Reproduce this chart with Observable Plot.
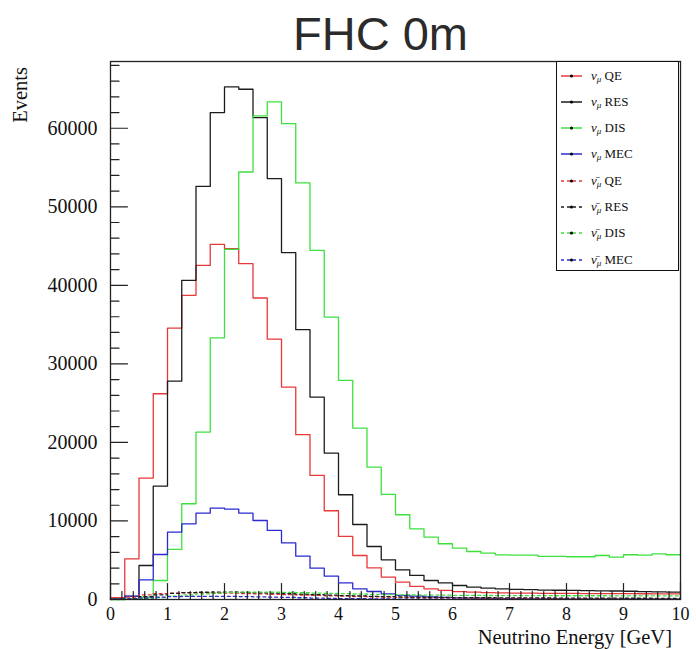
<!DOCTYPE html>
<html>
<head>
<meta charset="utf-8">
<script src="https://cdn.jsdelivr.net/npm/d3@7"></script>
<script src="https://cdn.jsdelivr.net/npm/@observablehq/plot@0.6"></script>
<style>
  body { margin: 0; background: #fff; }
  #wrap { position: relative; width: 696px; height: 649px; background: #fff; }
  #title { position: absolute; left: 293px; top: 10px; font-family: "Liberation Sans", Arial, sans-serif; font-size: 47px; line-height: 47px; color: #2b2b2b; white-space: nowrap; }
  #head { height: 58px; }
  .serif { font-family: "Liberation Serif", "DejaVu Serif", serif; color: #111; }
  #ylab { position: absolute; left: 0; top: 0; font-size: 20.5px; line-height: 23px; white-space: nowrap; transform-origin: 0 0; transform: translate(9px, 67px) rotate(-90deg) translateX(-100%); }
  #xlab { position: absolute; right: 24px; top: 626px; font-size: 20.5px; line-height: 23px; white-space: nowrap; }
  #legend { position: absolute; left: 556px; top: 61px; width: 123px; height: 210px; border: 1px solid #111; background: #fff; box-sizing: border-box; }
  .entry { position: absolute; left: 0; height: 16px; width: 120px; }
  .entry svg { position: absolute; left: 4px; top: 0; }
  .entry span { position: absolute; left: 34px; top: 0; font-size: 13px; line-height: 16px; white-space: nowrap; }
  .entry i { font-style: italic; }
  .entry sub { font-size: 9px; vertical-align: -2px; font-style: italic; }
</style>
</head>
<body>
<div id="wrap">
  <div id="head"></div>
  <div id="title">FHC 0m</div>
  <div id="chart"></div>
  <div id="ylab" class="serif">Events</div>
  <div id="xlab" class="serif">Neutrino Energy [GeV]</div>
  <div id="legend" class="serif"></div>
</div>
<script>
// Bin edges (GeV), 40 bins of 0.25 GeV
const binEdges = [0,0.25,0.5,0.75,1,1.25,1.5,1.75,2,2.25,2.5,2.75,3,3.25,3.5,3.75,4,4.25,4.5,4.75,5,5.25,5.5,5.75,6,6.25,6.5,6.75,7,7.25,7.5,7.75,8,8.25,8.5,8.75,9,9.25,9.5,9.75,10];

// nu_mu event counts per bin
const numuQE  = [250,5180,15460,26200,34560,38730,42550,45220,44670,42760,38390,33150,27050,20980,15800,11300,8030,5600,4030,2850,2210,1660,1360,1150,1000,930,880,850,820,800,790,780,770,760,750,740,740,730,720,720];
const numuRES = [100,400,4330,14430,27800,40640,52600,62000,65260,64970,61360,53590,44170,34360,25770,18640,13340,9550,6750,5050,3780,3060,2420,2120,1780,1570,1440,1350,1300,1250,1200,1180,1150,1120,1100,1080,1050,1000,980,950];
const numuDIS = [0,50,300,2420,6370,12190,21320,33300,44590,54430,61570,63350,60590,53040,44460,35960,27900,21830,16860,13380,10790,9000,7940,7100,6540,6110,5900,5690,5650,5650,5480,5480,5440,5440,5600,5400,5700,5650,5820,5700];
const numuMEC = [50,420,2500,5730,8580,9640,11000,11630,11510,11000,10060,8790,7220,5520,3990,2970,2120,1360,1020,720,520,420,330,260,200,170,140,120,100,90,80,70,60,55,50,45,40,35,30,30];
// anti-nu_mu event counts per bin
const anumuQE  = [60,300,600,750,820,850,850,830,800,760,720,670,620,570,520,470,420,380,340,300,270,240,220,200,185,170,160,150,140,135,130,125,120,115,110,105,100,100,95,90];
const anumuRES = [20,100,350,600,780,880,920,930,920,890,850,800,740,680,620,560,500,450,400,360,330,300,280,260,245,230,220,210,200,195,190,185,180,175,170,165,160,160,155,150];
const anumuDIS = [0,20,100,250,420,580,720,820,900,940,950,930,900,860,820,780,740,700,660,630,600,580,560,545,530,520,510,500,495,490,485,480,480,475,475,470,470,470,465,465];
const anumuMEC = [5,60,200,300,360,390,400,400,390,370,340,300,260,220,180,150,120,100,80,65,55,45,40,35,30,25,22,20,18,16,15,14,13,12,11,10,10,9,9,8];

const xTickValues = [0,1,2,3,4,5,6,7,8,9,10];
const yTickValues = [0,10000,20000,30000,40000,50000,60000];

const seriesNames = ["numuQE","numuRES","numuDIS","numuMEC","anumuQE","anumuRES","anumuDIS","anumuMEC"];
const seriesValues = [numuQE,numuRES,numuDIS,numuMEC,anumuQE,anumuRES,anumuDIS,anumuMEC];
const legendInteraction = ["QE","RES","DIS","MEC","QE","RES","DIS","MEC"];
const legendAnti = [false,false,false,false,true,true,true,true];

const colors = ["#e8383a","#1c1c1c","#3ee03e","#2b2bd0","#e8383a","#1c1c1c","#3ee03e","#2b2bd0"];
const dashes = [null,null,null,null,"3,3","3,3","3,3","3,3"];

function stepData(vals) {
  const out = vals.map((v, i) => ({e: binEdges[i], v}));
  out.push({e: binEdges[vals.length], v: vals[vals.length - 1]});
  return out;
}

const yMinor = d3.range(2000, 68500, 2000).filter(d => d % 10000 !== 0);
const xMinor = d3.range(0, 10.001, 0.2).map(d => Math.round(d * 10) / 10).filter(d => Math.abs(d - Math.round(d)) > 1e-6);

const tickShape = {draw(context, l) { context.moveTo(0, 0); context.lineTo(0, -l); }};

const lineMarks = seriesValues.map((vals, k) =>
  Plot.line(stepData(vals), {
    x: "e", y: "v", curve: "step-after",
    stroke: colors[k], strokeWidth: 1.3,
    strokeDasharray: dashes[k] || undefined
  })
);

const chart = Plot.plot({
  width: 696,
  height: 591,
  marginLeft: 110,
  marginRight: 16,
  marginTop: 3,
  marginBottom: 50,
  x: {domain: [0, 10]},
  y: {domain: [0, 68500]},
  style: {fontFamily: "'Liberation Serif', 'DejaVu Serif', serif", color: "#111", background: "transparent"},
  marks: [
    ...lineMarks,
    Plot.axisX({ticks: xTickValues, tickSize: 0, tickPadding: 8, fontSize: 18, tickFormat: d => String(d), label: null}),
    Plot.axisY({ticks: yTickValues, tickSize: 0, tickPadding: 13, fontSize: 20, tickFormat: d => String(d), label: null}),
    Plot.vector(yTickValues, {y: d => d, frameAnchor: "left", length: 17, rotate: 90, anchor: "start", shape: tickShape, stroke: "#222", strokeWidth: 1.2}),
    Plot.vector(yMinor, {y: d => d, frameAnchor: "left", length: 8.5, rotate: 90, anchor: "start", shape: tickShape, stroke: "#222", strokeWidth: 1.2}),
    Plot.vector(xTickValues, {x: d => d, frameAnchor: "bottom", length: 16, rotate: 0, anchor: "start", shape: tickShape, stroke: "#222", strokeWidth: 1.2}),
    Plot.vector(xMinor, {x: d => d, frameAnchor: "bottom", length: 8, rotate: 0, anchor: "start", shape: tickShape, stroke: "#222", strokeWidth: 1.2}),
    Plot.frame({stroke: "#222", strokeWidth: 1.3})
  ]
});
document.getElementById("chart").appendChild(chart);

// Legend (ROOT-style, inside the frame)
const legend = document.getElementById("legend");
seriesNames.forEach((name, k) => {
  const div = document.createElement("div");
  div.className = "entry";
  div.style.top = (5.5 + 26.3 * k) + "px";
  const dash = dashes[k] ? `stroke-dasharray="${dashes[k]}"` : "";
  div.innerHTML =
    `<svg width="24" height="16"><line x1="0" y1="8" x2="21" y2="8" stroke="${colors[k]}" stroke-width="1.5" ${dash}/>` +
    `<circle cx="10.5" cy="8" r="1.6" fill="#000"/></svg>` +
    `<span><i>${legendAnti[k] ? "\u03BD\u0304" : "\u03BD"}</i><sub>\u03BC</sub> ${legendInteraction[k]}</span>`;
  legend.appendChild(div);
});
</script>
</body>
</html>
